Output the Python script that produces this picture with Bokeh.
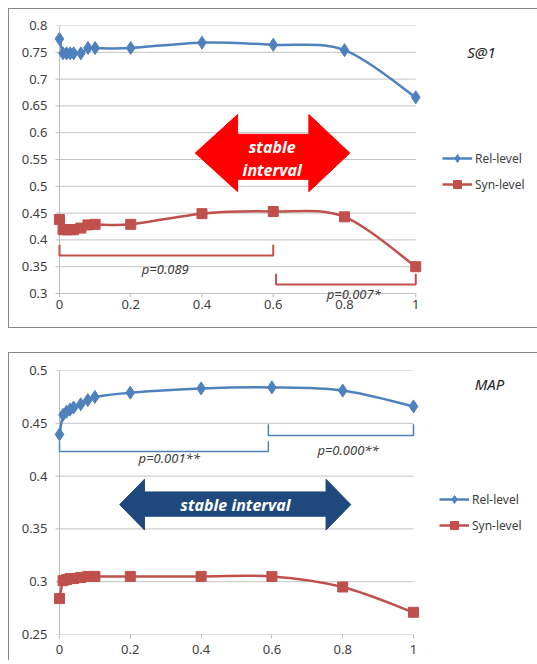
from bokeh.plotting import figure
from bokeh.models import Range1d, Label, Legend, LegendItem, FixedTicker
from bokeh.layouts import column
from bokeh.embed import file_html
from bokeh.resources import INLINE

# ---------------- data ----------------
x_vals = [0, 0.01, 0.02, 0.03, 0.04, 0.06, 0.08, 0.1, 0.2, 0.4, 0.6, 0.8, 1.0]

s1_rel = [0.775, 0.748, 0.748, 0.748, 0.748, 0.748, 0.758, 0.758, 0.758, 0.768, 0.764, 0.754, 0.666]
s1_syn = [0.438, 0.419, 0.419, 0.419, 0.419, 0.422, 0.428, 0.429, 0.429, 0.449, 0.453, 0.443, 0.350]

map_rel = [0.4395, 0.458, 0.461, 0.463, 0.465, 0.468, 0.472, 0.475, 0.479, 0.483, 0.484, 0.481, 0.466]
map_syn = [0.284, 0.301, 0.302, 0.303, 0.303, 0.304, 0.305, 0.305, 0.305, 0.305, 0.305, 0.295, 0.271]

x_ticks = [0, 0.2, 0.4, 0.6, 0.8, 1.0]
x_tick_labels = ["0", "0.2", "0.4", "0.6", "0.8", "1"]
s1_y_ticks = [0.3, 0.35, 0.4, 0.45, 0.5, 0.55, 0.6, 0.65, 0.7, 0.75, 0.8]
s1_y_labels = ["0.3", "0.35", "0.4", "0.45", "0.5", "0.55", "0.6", "0.65", "0.7", "0.75", "0.8"]
map_y_ticks = [0.25, 0.3, 0.35, 0.4, 0.45, 0.5]
map_y_labels = ["0.25", "0.3", "0.35", "0.4", "0.45", "0.5"]

series_names = ["Rel-level", "Syn-level"]

# significance brackets: (x0, x1, y_top, y_bottom, label, label_x, label_y)
s1_brackets = [(0.0, 0.6, 0.391, 0.371, "p=0.089", 0.297, 0.345),
               (0.608, 1.0, 0.337, 0.317, "p=0.007*", 0.826, 0.300)]
map_brackets = [(0.0, 0.59, 0.433, 0.4233, "p=0.001**", 0.31, 0.4167),
                (0.59, 1.0, 0.449, 0.4385, "p=0.000**", 0.815, 0.425)]

# "stable interval" arrows: (tip_l, base_l, base_r, tip_r, head_top, shaft_top, shaft_bot, head_bot)
s1_arrow = (0.381, 0.50, 0.70, 0.815, 0.634, 0.597, 0.513, 0.490)
map_arrow = (0.17, 0.24, 0.753, 0.823, 0.397, 0.385, 0.362, 0.349)

BLUE = "#4F81BD"
RED = "#C0504D"
FONT = "Noto Sans"
TXT = "#404040"
GRID = "#C3C3C3"
AXIS = "#BDBDBD"
PAD = 8  # px of frame kept left of x=0 so that markers at x=0 are not clipped


def arrow_shape(a):
    tl, bl, br, tr, ht, st, sb, hb = a
    yc = (ht + hb) / 2
    xs = [tl, bl, bl, br, br, tr, br, br, bl, bl]
    ys = [yc, ht, st, st, ht, yc, hb, sb, sb, hb]
    return xs, ys


def smooth_segments(xs, ys):
    """Bezier control points for a smoothed line through the data points
    (Catmull-Rom tangents, as in a spreadsheet's 'smoothed line')."""
    n = len(xs)
    seg = {k: [] for k in ("x0", "y0", "x1", "y1", "cx0", "cy0", "cx1", "cy1")}
    for i in range(n - 1):
        a = max(i - 1, 0)
        d = min(i + 2, n - 1)
        seg["x0"].append(xs[i]); seg["y0"].append(ys[i])
        seg["x1"].append(xs[i + 1]); seg["y1"].append(ys[i + 1])
        seg["cx0"].append(xs[i] + (xs[i + 1] - xs[a]) / 6)
        seg["cy0"].append(ys[i] + (ys[i + 1] - ys[a]) / 6)
        seg["cx1"].append(xs[i + 1] - (xs[d] - xs[i]) / 6)
        seg["cy1"].append(ys[i + 1] - (ys[d] - ys[i]) / 6)
    return seg


def style_axis(ax, standoff=3, tick_out=4):
    ax.axis_line_color = None
    ax.major_tick_line_color = AXIS if tick_out else None
    ax.major_tick_out = tick_out
    ax.major_tick_in = 0
    ax.minor_tick_line_color = None
    ax.major_label_text_font = FONT
    ax.major_label_text_font_size = "13px"
    ax.major_label_text_color = TXT
    ax.major_label_standoff = standoff


def make_panel(height, margin, borders, xscale, yr, yt, yl, rel, syn, brackets, bcolor, bwidth,
               arrow, acolor, atexts, title, title_px, legend_loc, manual_x, border_css):
    left, right, top, bottom = borders
    frame_w = 529 - left - right
    x0 = -PAD / xscale
    xmax = x0 + frame_w / xscale
    p = figure(width=529, height=height, output_backend="svg", toolbar_location=None,
               x_range=Range1d(x0, xmax), y_range=Range1d(*yr), margin=margin,
               x_axis_location=None if manual_x else "below",
               min_border_left=left, min_border_right=right,
               min_border_top=top, min_border_bottom=bottom,
               background_fill_color="white", border_fill_color="white",
               styles=border_css)
    p.outline_line_color = None
    p.xgrid.visible = False
    p.ygrid.visible = False
    upx = 1.0 / xscale                                   # x data units per pixel
    upy = (yr[1] - yr[0]) / (height - top - bottom)      # y data units per pixel

    # horizontal gridlines from x=0 to x=1 only
    p.segment(x0=[0] * len(yt), x1=[1] * len(yt), y0=yt, y1=yt, line_color=GRID, line_width=1)
    # vertical axis line and its tick marks
    p.segment(x0=[0], x1=[0], y0=[yt[0]], y1=[yt[-1]], line_color=AXIS, line_width=1)
    p.segment(x0=[-4 * upx] * len(yt), x1=[0] * len(yt), y0=yt, y1=yt,
              line_color=AXIS, line_width=1)

    p.yaxis.ticker = FixedTicker(ticks=yt)
    p.yaxis.major_label_overrides = {t: l for t, l in zip(yt, yl)}
    style_axis(p.yaxis, standoff=4, tick_out=0)

    if manual_x:
        # x axis drawn inside the frame so that texts straddling it stay visible
        p.segment(x0=x_ticks, x1=x_ticks, y0=[yt[0]] * len(x_ticks),
                  y1=[yt[0] - 4 * upy] * len(x_ticks), line_color=AXIS, line_width=1)
        for t, l in zip(x_ticks, x_tick_labels):
            p.add_layout(Label(x=t, y=yt[0] - 11 * upy, text=l, text_font=FONT,
                               text_font_size="13px", text_color=TXT,
                               text_align="center", text_baseline="middle"))
    else:
        p.xaxis.ticker = FixedTicker(ticks=x_ticks)
        p.xaxis.major_label_overrides = {t: l for t, l in zip(x_ticks, x_tick_labels)}
        style_axis(p.xaxis, standoff=6)

    # arrow
    axs, ays = arrow_shape(arrow)
    p.patch(axs, ays, fill_color=acolor, line_color=acolor)
    for (t, tx, ty) in atexts:
        p.add_layout(Label(x=tx, y=ty, text=t, text_font=FONT, text_font_size="16px",
                           text_font_style="bold italic", text_color="white",
                           text_align="center", text_baseline="middle"))

    # brackets
    for (bx0, bx1, byt, byb, lab, lx, ly) in brackets:
        p.line([bx0, bx0, bx1, bx1], [byt, byb, byb, byt], line_color=bcolor, line_width=bwidth)
        p.add_layout(Label(x=lx, y=ly, text=lab, text_font=FONT, text_font_size="13px",
                           text_font_style="italic", text_color=TXT,
                           text_align="center", text_baseline="middle"))

    lr = p.bezier(line_color=BLUE, line_width=2.5, **smooth_segments(x_vals, rel))
    sr = p.scatter(x_vals, rel, marker="diamond", size=13, fill_color=BLUE, line_color=BLUE)
    ls = p.bezier(line_color=RED, line_width=2.5, **smooth_segments(x_vals, syn))
    ss = p.scatter(x_vals, syn, marker="square", size=10, fill_color=RED, line_color=RED)

    legend = Legend(items=[LegendItem(label=series_names[0], renderers=[lr, sr]),
                           LegendItem(label=series_names[1], renderers=[ls, ss])],
                    location=legend_loc, padding=0, margin=0, spacing=6,
                    glyph_width=30, glyph_height=20, label_height=20, label_standoff=3,
                    label_text_font=FONT, label_text_font_size="12px", label_text_color=TXT,
                    border_line_alpha=0, background_fill_alpha=0)
    p.add_layout(legend)

    # chart name, placed in screen pixels relative to the frame's bottom-left corner
    p.add_layout(Label(x=title_px[0], y=title_px[1], x_units="screen", y_units="screen",
                       text=title, text_font=FONT,
                       text_font_size="15px", text_font_style="italic", text_color="#262626",
                       text_align="center", text_baseline="middle"))
    return p


BORDER_TOP = {"border": "1px solid #868686", "border-right": "none", "box-sizing": "border-box"}
BORDER_BOT = {"border": "1px solid #868686", "border-right": "none", "border-bottom": "none",
              "box-sizing": "border-box"}

# top panel: 0.8 at 16px, 0.3 at 284px inside the figure (536 px per unit); frame runs to 318px
p1 = make_panel(320, (8, 0, 0, 8), (49 - PAD, 0, 16, 2), 357, (0.3 - 34 / 536, 0.8),
                s1_y_ticks, s1_y_labels, s1_rel, s1_syn,
                s1_brackets, RED, 2, s1_arrow, "#FF0000",
                [("stable", 0.597, 0.574), ("interval", 0.597, 0.531)],
                "S@1", (422 + PAD, 276), (383 + PAD, 133), True, BORDER_TOP)
p2 = make_panel(308, (0, 0, 0, 8), (50 - PAD, 0, 17, 27), 354, (0.25, 0.5),
                map_y_ticks, map_y_labels, map_rel, map_syn,
                map_brackets, BLUE, 1.5, map_arrow, "#1F497D",
                [("stable interval", 0.497, 0.373)],
                "MAP", (430 + PAD, 251), (380 + PAD, 99), False, BORDER_BOT)

layout = column(p1, p2, spacing=24)
open("out.html", "w").write(file_html(layout, INLINE))
